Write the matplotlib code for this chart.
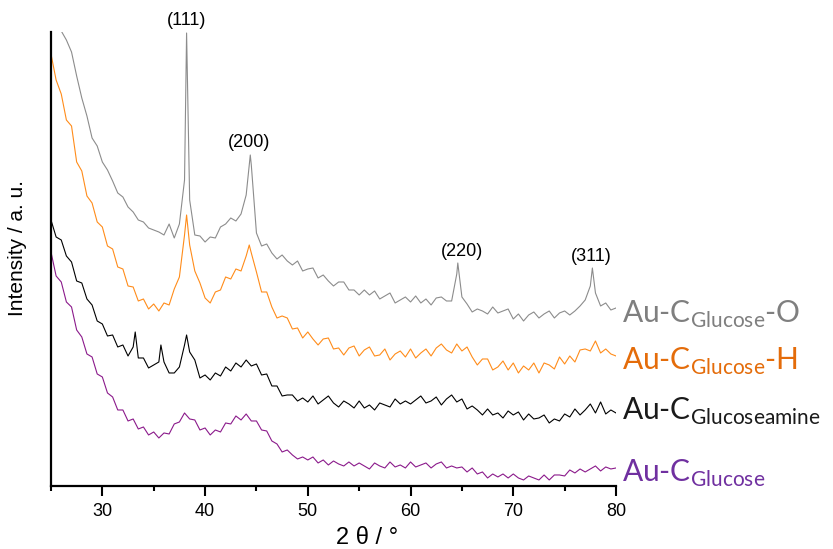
import numpy as np
import matplotlib
matplotlib.use("Agg")
import matplotlib.pyplot as plt

plt.rcParams["font.family"] = ["Liberation Sans", "DejaVu Sans"]
plt.rcParams["mathtext.fontset"] = "custom"
plt.rcParams["mathtext.rm"] = "Lato"

# 2theta grid (0.5 deg) shared by all patterns
two_theta = np.arange(25.0, 80.01, 0.5)

# intensities (arbitrary units, stacked offsets included)
grey_o = [
    506, 478, 455, 446, 434, 410, 388, 370, 348, 340,
    324, 316, 305, 293, 289, 279, 274, 266, 264, 258,
    256, 254, 251, 262, 248, 262, 306, 286, 251, 250,
    244, 249, 248, 259, 262, 268, 265, 272, 291, 321,
    253, 240, 242, 233, 227, 231, 225, 221, 225, 215,
    217, 218, 208, 211, 205, 200, 204, 204, 196, 196,
    191, 196, 191, 195, 187, 190, 193, 183, 186, 189,
    184, 190, 183, 187, 181, 188, 189, 185, 185, 212,
    189, 182, 174, 177, 175, 172, 179, 173, 175, 177,
    167, 172, 165, 171, 174, 168, 172, 175, 168, 173,
    175, 171, 175, 180, 186, 200, 193, 180, 183, 176,
    178,
]
grey_peak_x = [38.2, 44.4, 64.6, 77.7]
grey_peak_y = [453, 331, 223, 218]

orange_h = [
    432, 406, 392, 366, 360, 324, 315, 290, 283, 264,
    259, 240, 237, 219, 217, 200, 199, 185, 187, 177,
    182, 175, 183, 181, 197, 209, 251, 241, 215, 203,
    188, 183, 194, 196, 209, 207, 217, 215, 230, 233,
    214, 194, 194, 179, 168, 170, 168, 157, 158, 148,
    154, 147, 141, 147, 148, 137, 138, 131, 138, 140,
    130, 136, 139, 130, 131, 137, 126, 132, 135, 129,
    137, 128, 133, 137, 130, 138, 142, 136, 133, 142,
    135, 139, 129, 121, 127, 127, 116, 119, 125, 116,
    123, 113, 120, 116, 123, 113, 123, 121, 117, 129,
    122, 130, 124, 136, 137, 135, 145, 133, 137, 132,
    130,
]
orange_peak_x = [38.2, 44.3]
orange_peak_y = [271, 241]

black_amine = [
    266, 249, 246, 230, 224, 205, 203, 187, 181, 165,
    162, 150, 151, 139, 141, 130, 139, 128, 128, 118,
    121, 124, 124, 113, 113, 119, 141, 134, 126, 108,
    111, 106, 113, 110, 119, 115, 123, 119, 126, 120,
    122, 111, 112, 100, 100, 90, 91, 91, 85, 88,
    84, 90, 82, 86, 90, 83, 79, 85, 82, 78,
    85, 78, 81, 76, 83, 81, 79, 87, 82, 85,
    82, 86, 90, 83, 85, 89, 81, 87, 91, 84,
    87, 77, 80, 76, 71, 77, 71, 73, 68, 75,
    71, 74, 66, 72, 67, 68, 71, 63, 67, 65,
    72, 69, 77, 71, 76, 82, 73, 84, 72, 76,
    73,
]
black_peak_x = [33.2, 35.7, 38.2]
black_peak_y = [154, 141, 151]

purple_glc = [
    234, 210, 204, 184, 179, 156, 149, 132, 129, 112,
    109, 93, 89, 76, 76, 65, 67, 57, 59, 51,
    54, 48, 53, 52, 62, 64, 73, 67, 66, 56,
    58, 51, 56, 54, 63, 62, 70, 66, 72, 65,
    65, 56, 55, 45, 42, 34, 36, 31, 27, 29,
    26, 29, 23, 26, 21, 25, 22, 20, 24, 20,
    23, 20, 17, 23, 20, 18, 24, 19, 21, 18,
    24, 19, 21, 23, 18, 22, 24, 18, 20, 18,
    19, 14, 18, 12, 14, 8, 12, 9, 12, 8,
    12, 8, 6, 10, 8, 6, 11, 6, 11, 11,
    10, 16, 13, 17, 14, 17, 20, 15, 19, 17,
    18,
]

labels = ["(111)", "(200)", "(220)", "(311)"]
label_x = [38.2, 44.3, 65.0, 77.6]
label_y = [466, 343, 234, 229]


def merged(base, px=(), py=()):
    x = np.concatenate([two_theta, px])
    y = np.concatenate([np.asarray(base, float), py])
    order = np.argsort(x, kind="stable")
    return x[order], y[order]


fig = plt.figure(figsize=(8.33, 5.49), dpi=100)
ax = fig.add_axes([0.0612, 0.1148, 0.6783, 0.8269])

series = [
    (merged(grey_o, grey_peak_x, grey_peak_y), "#8c8c8c"),
    (merged(orange_h, orange_peak_x, orange_peak_y), "#ff8c1a"),
    (merged(black_amine, black_peak_x, black_peak_y), "#000000"),
    (merged(purple_glc), "#8b1a8b"),
]
for (x, y), col in series:
    ax.plot(x, y, color=col, lw=0.8)

ax.set_xlim(25, 80)
ax.set_ylim(0, 454)
ax.set_xticks(np.arange(30, 81, 10))
ax.set_xticks(np.arange(25, 80, 10), minor=True)
ax.set_yticks([])
ax.tick_params(axis="x", which="major", length=7, width=1.5, labelsize=13, pad=5)
ax.tick_params(axis="x", which="minor", length=3.5, width=1.5)
for side in ["top", "right"]:
    ax.spines[side].set_visible(False)
for side in ["left", "bottom"]:
    ax.spines[side].set_linewidth(1.6)

for t, lx, ly in zip(labels, label_x, label_y):
    ax.text(lx, ly, t, ha="center", va="center", fontsize=13, clip_on=False)

# sample names on the right
names = [
    (r"Au-C$_{\mathrm{Glucose}}$-O", 163, "#7f7f7f"),
    (r"Au-C$_{\mathrm{Glucose}}$-H", 116, "#e46c0a"),
    (r"Au-C$_{\mathrm{Glucoseamine}}$", 66, "#1a1a1a"),
    (r"Au-C$_{\mathrm{Glucose}}$", 4, "#7030a0"),
]
for txt, yb, col in names:
    ax.text(80.55, yb, txt, ha="left", va="baseline", fontsize=21.5,
            family="Lato", color=col, clip_on=False)

fig.text(367 / 833, 1 - 538 / 549, "2 θ / °", ha="center", va="center", fontsize=17)
fig.text(18 / 833, 1 - 248 / 549, "Intensity / a. u.", ha="center", va="center",
         rotation=90, fontsize=15)

fig.savefig("out.png", dpi=100)
